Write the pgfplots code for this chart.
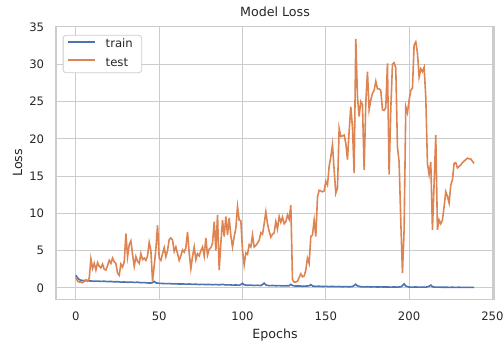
\documentclass[border=0pt]{standalone}
\usepackage{pgfplots}
\pgfplotsset{compat=1.18}
\usepackage{fontspec}
\setmainfont{DejaVu Sans}
\definecolor{cblue}{HTML}{4C72B0}
\definecolor{corange}{HTML}{DD8452}
\definecolor{cgrid}{HTML}{CCCCCC}
\definecolor{ctext}{HTML}{262626}
\begin{document}
\begin{tikzpicture}
\begin{axis}[
  at={(0,0)}, anchor=south west,
  scale only axis, width=438bp, height=273.3bp,
  xmin=-11.95, xmax=250.95, ymin=-1.55, ymax=35.1,
  xtick={0,50,...,250}, ytick={0,5,...,35},
  major tick length=0pt,
  /pgf/number format/assume math mode=true,
  grid=major, grid style={cgrid, line width=1.06bp},
  axis line style={cgrid, line width=1.3bp},
  ticklabel style={font=\fontsize{11.7}{14}\selectfont, text=ctext, inner sep=0pt},
  xticklabel style={anchor=north, yshift=-12.5bp},
  yticklabel style={anchor=east, xshift=-11.7bp},
  xlabel={Epochs}, ylabel={Loss}, title={Model Loss},
  label style={font=\fontsize{12.7}{15}\selectfont, text=ctext, inner sep=0pt},
  xlabel style={at={(axis description cs:0.5,-0.1409)}, anchor=base},
  ylabel style={at={(axis description cs:-0.0776,0.5)}, anchor=base},
  title style={font=\fontsize{12.7}{15}\selectfont, text=ctext, inner sep=0pt, at={(axis description cs:0.5,1.013)}, anchor=base},
  legend style={at={(axis description cs:0.0153,0.968)}, anchor=north west,
    draw=cgrid, line width=0.8bp, rounded corners=3bp, fill=white,
    font=\fontsize{11.7}{14}\selectfont, text=ctext,
    inner xsep=4bp, inner ysep=4bp, row sep=7.4bp,
    nodes={inner sep=0pt, text height=8.5bp, text depth=2.5bp, text width=32bp},
    /tikz/every odd column/.append style={column sep=10bp}},
  legend cell align=left,
  legend image code/.code={\draw[#1] (0bp,0.3em) -- (27bp,0.3em);},
]
\addplot[cblue, line width=1.6bp] coordinates {
(0,1.70) (1,1.35) (2,1.12) (3,1.03) (5,0.98) (7,0.95) (9,0.93) (11,0.90) (13,0.92) (15,0.88)
(17,0.90) (19,0.85) (21,0.87) (23,0.82) (25,0.84) (27,0.78) (29,0.80) (31,0.76) (33,0.79) (35,0.74)
(37,0.77) (39,0.70) (41,0.72) (43,0.67) (45,0.66) (46,0.70) (47,0.88) (48,0.68) (50,0.62) (52,0.60)
(54,0.57) (56,0.59) (58,0.54) (60,0.56) (62,0.52) (64,0.54) (66,0.50) (68,0.53) (70,0.48) (72,0.50)
(74,0.46) (76,0.48) (78,0.45) (80,0.47) (82,0.43) (84,0.46) (86,0.42) (88,0.48) (90,0.40) (92,0.42)
(94,0.38) (96,0.40) (98,0.36) (99,0.45) (100,0.62) (101,0.42) (103,0.35) (105,0.38) (107,0.33) (109,0.36)
(111,0.32) (112,0.45) (113,0.65) (114,0.40) (116,0.30) (118,0.33) (120,0.29) (122,0.31) (124,0.27) (126,0.29)
(128,0.30) (129,0.48) (130,0.32) (132,0.25) (134,0.27) (136,0.23) (138,0.25) (140,0.28) (141,0.45) (142,0.26)
(144,0.21) (146,0.23) (148,0.19) (150,0.21) (152,0.18) (154,0.20) (156,0.17) (158,0.19) (160,0.16) (162,0.18)
(164,0.15) (166,0.20) (167,0.32) (168,0.50) (169,0.28) (171,0.16) (173,0.14) (175,0.16) (177,0.13) (179,0.15)
(181,0.12) (183,0.14) (185,0.12) (187,0.13) (189,0.11) (191,0.13) (193,0.11) (195,0.15) (196,0.30) (197,0.55)
(198,0.25) (200,0.12) (202,0.11) (204,0.13) (206,0.10) (208,0.12) (210,0.10) (212,0.22) (213,0.38) (214,0.15)
(216,0.10) (218,0.11) (220,0.09) (222,0.10) (224,0.08) (226,0.09) (228,0.08) (230,0.09) (232,0.07) (234,0.08)
(236,0.07) (239,0.07)
};
\addlegendentry{train}
\addplot[corange, line width=1.6bp] coordinates {
(0,1.4) (1,0.9) (2,0.8) (3,0.8) (4,0.7) (5,0.9) (6,1.1) (7,0.9) (8,1.3) (9,3.9)
(10,2.6) (11,3.3) (12,2.4) (13,3.4) (14,2.9) (15,2.7) (16,3.2) (17,2.5) (18,2.4) (19,3.0)
(20,3.7) (21,3.3) (22,4.0) (23,3.5) (24,3.3) (25,2.0) (26,1.7) (27,3.2) (28,2.8) (29,3.5)
(30,7.3) (31,4.2) (32,5.8) (33,6.3) (34,4.5) (35,2.9) (36,4.2) (37,3.6) (38,3.3) (39,4.6)
(40,3.8) (41,4.0) (42,3.7) (43,4.3) (44,6.1) (45,5.0) (46,0.9) (47,3.0) (48,5.2) (49,8.4)
(50,4.0) (51,3.7) (52,4.6) (53,5.4) (54,4.2) (55,5.0) (56,6.5) (57,6.7) (58,6.4) (59,4.9)
(60,5.5) (61,4.6) (62,3.7) (63,4.3) (64,5.1) (65,4.8) (66,5.4) (67,7.5) (68,4.7) (69,2.6)
(70,4.2) (71,5.5) (72,3.8) (73,4.6) (74,4.3) (75,5.0) (76,5.5) (77,4.3) (78,6.7) (79,4.4)
(80,5.2) (81,5.4) (82,6.0) (83,8.9) (84,5.0) (85,9.8) (86,2.4) (87,6.0) (88,9.1) (89,6.9)
(90,9.6) (91,7.1) (92,9.4) (93,7.0) (94,5.5) (95,6.9) (96,8.0) (97,10.9) (98,9.1) (99,9.0)
(100,5.0) (101,3.1) (102,4.7) (103,4.5) (104,5.8) (105,5.5) (106,7.1) (107,5.5) (108,5.7) (109,6.0)
(110,6.4) (111,7.4) (112,7.2) (113,8.6) (114,10.2) (115,8.6) (116,7.6) (117,6.8) (118,7.2) (119,7.4)
(120,8.9) (121,7.9) (122,9.6) (123,8.8) (124,9.5) (125,8.6) (126,8.9) (127,9.8) (128,9.2) (129,11.1)
(130,1.1) (131,0.8) (132,0.8) (133,0.9) (134,1.4) (135,1.9) (136,1.5) (137,1.6) (138,2.4) (139,4.0)
(140,3.3) (141,6.9) (142,7.1) (143,9.1) (144,6.9) (145,12.2) (146,13.1) (147,13.0) (148,12.9) (149,13.0)
(150,14.3) (151,13.8) (152,16.3) (153,17.6) (154,19.2) (155,15.8) (156,12.7) (157,13.4) (158,21.4) (159,20.3)
(160,20.4) (161,20.5) (162,19.4) (163,17.2) (164,21.0) (165,24.3) (166,21.5) (167,15.4) (168,33.4) (169,25.6)
(170,23.0) (171,25.0) (172,24.6) (173,15.8) (174,24.8) (175,29.0) (176,23.9) (177,25.2) (178,26.1) (179,26.5)
(180,27.7) (181,26.7) (182,26.7) (183,26.5) (184,23.9) (185,23.8) (186,24.2) (187,30.1) (188,15.2) (189,24.0)
(190,30.0) (191,30.2) (192,29.5) (193,18.9) (194,16.9) (195,9.0) (196,2.0) (197,7.8) (198,24.3) (199,23.5)
(200,25.2) (201,26.5) (202,26.8) (203,32.6) (204,33.0) (205,31.5) (206,28.3) (207,29.4) (208,29.0) (209,29.6)
(210,25.6) (211,16.7) (212,15.2) (213,16.9) (214,7.8) (215,14.0) (216,20.5) (217,7.8) (218,9.1) (219,8.6)
(220,9.1) (221,10.9) (222,12.9) (223,12.3) (224,11.4) (225,13.8) (226,14.5) (227,16.7) (228,16.8) (229,16.1)
(230,16.3) (231,16.5) (232,16.8) (233,17.0) (234,17.2) (235,17.4) (236,17.3) (237,17.3) (238,17.0) (239,16.7)
};
\addlegendentry{test}
\end{axis}
\pgfresetboundingbox
\path[use as bounding box] (-56bp,-43.5bp) rectangle (447bp,299.5bp);
\end{tikzpicture}
\end{document}
